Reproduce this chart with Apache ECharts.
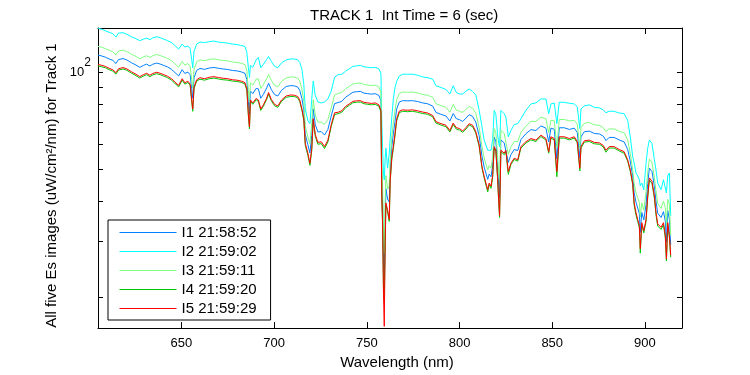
<!DOCTYPE html>
<html><head><meta charset="utf-8">
<script src="https://cdn.jsdelivr.net/npm/echarts@6/dist/echarts.min.js"></script>
<style>html,body{margin:0;padding:0;background:#fff}#c{width:750px;height:375px}</style>
</head><body><div id="c"></div>
<script>
const wavelength = [
605.0,607.0,609.0,611.0,613.0,614.7,616.0,618.5,620.5,623.0,
625.5,627.5,629.5,631.2,633.0,634.5,636.6,638.5,640.5,642.5,
644.7,646.5,648.5,649.5,650.4,651.8,653.5,654.7,655.5,656.1,
656.8,658.2,660.0,662.5,665.0,667.5,670.0,672.5,675.0,677.5,
680.0,682.5,684.3,685.3,686.1,686.7,687.2,688.5,690.3,691.5,
692.8,694.2,696.0,697.0,698.5,700.3,702.0,704.0,706.5,709.0,
711.0,712.7,713.8,715.0,716.0,716.8,718.2,719.3,720.3,721.1,
722.2,723.6,725.4,727.2,729.0,730.8,732.6,734.5,736.5,738.5,
740.5,742.5,744.5,746.5,748.5,750.5,752.5,754.5,756.5,757.6,
758.1,758.5,759.0,759.4,759.9,760.3,761.2,762.1,762.6,763.5,
764.3,765.2,766.1,767.5,769.3,772.0,774.7,777.4,780.1,782.8,
785.5,787.3,790.0,792.7,794.8,796.6,798.2,800.0,801.7,803.5,
805.2,807.1,808.8,810.6,812.1,813.3,815.2,816.0,817.0,817.9,
818.7,819.6,820.5,821.1,821.6,822.3,824.1,825.0,826.3,827.7,
829.5,831.4,833.1,835.8,838.5,841.2,843.9,846.6,848.1,849.3,
851.1,852.5,853.8,856.5,859.2,861.9,863.5,864.9,865.5,867.3,
870.0,872.7,875.4,877.5,879.0,880.7,883.4,886.1,888.8,890.7,
892.1,893.4,894.2,895.2,896.1,897.0,897.5,898.3,899.4,900.6,
901.5,902.4,903.8,905.1,906.0,906.9,908.7,910.0,911.0,911.6,
912.3,913.2,913.9];

// I1 (blue)
const i1 = [
113.3,112.6,111.6,110.2,109.1,106.7,109.7,110.5,109.5,107.3,
105.5,103.8,105.2,106.2,104.8,106.1,107.0,106.3,105.2,104.1,
102.3,100.0,97.6,98.5,102.1,99.4,100.3,98.4,89.1,83.2,
96.3,101.5,103.0,102.3,103.3,103.7,103.1,102.6,102.2,101.5,
101.2,100.4,99.4,95.1,81.2,74.3,87.7,86.0,89.3,89.0,
83.2,85.6,89.6,92.7,88.5,85.4,84.6,88.1,90.5,91.1,
90.9,90.2,88.1,83.0,76.7,64.3,59.7,56.3,63.8,77.1,
69.0,65.4,65.6,64.0,66.6,73.3,80.1,80.7,81.4,83.8,
85.3,86.9,87.2,87.4,86.3,86.0,85.7,86.0,84.9,81.8,
46.9,39.3,25.7,21.4,34.7,43.6,40.5,39.6,50.1,59.1,
64.4,70.5,77.1,81.0,81.8,81.7,81.8,81.3,80.5,80.0,
78.7,75.2,74.2,73.3,70.7,74.6,72.0,71.4,70.5,72.2,
74.0,73.1,70.1,63.6,55.0,50.9,46.6,48.4,47.5,51.6,
63.0,61.3,51.5,44.8,40.9,61.8,60.5,61.0,52.6,55.6,
57.7,57.3,61.9,64.6,66.5,66.1,68.3,67.2,60.9,67.2,
66.7,53.9,67.4,67.4,66.6,67.2,65.2,54.3,63.2,65.5,
65.8,64.7,64.5,63.5,61.5,62.9,62.9,61.8,60.9,57.7,
53.1,47.8,42.4,39.5,38.0,36.5,31.9,36.8,34.9,38.9,
45.2,50.5,49.3,44.3,39.7,36.6,35.5,37.0,34.6,29.8,
37.3,35.0,29.2];

// I2 (cyan)
const i2 = [
137.2,136.3,134.8,133.4,132.0,128.8,132.5,133.0,131.5,129.2,
127.4,125.6,127.0,127.9,126.5,128.1,129.2,128.3,127.0,125.6,
123.9,121.3,118.3,119.2,122.6,120.0,120.8,118.8,109.9,103.5,
116.3,122.6,124.3,123.9,124.7,125.2,124.3,123.9,123.4,122.6,
122.1,121.3,120.4,115.4,103.8,96.5,105.3,103.8,109.5,111.4,
103.5,106.0,109.9,112.2,108.3,104.5,103.5,107.2,109.5,110.2,
110.2,109.5,107.5,102.4,92.1,77.1,70.9,69.4,82.8,94.2,
84.8,81.1,80.5,81.1,82.8,87.6,96.7,98.5,98.8,100.9,
102.7,104.5,104.9,105.3,104.2,103.8,103.5,103.8,102.7,99.5,
69.4,58.2,48.8,46.4,54.2,58.2,50.5,56.2,62.4,72.9,
82.8,89.9,94.0,97.6,98.8,98.8,98.8,98.1,96.9,96.4,
95.4,91.0,89.9,88.6,85.8,91.0,86.8,85.8,85.8,87.6,
88.9,87.3,85.2,76.3,68.0,61.7,57.4,58.2,57.4,62.4,
76.3,74.0,64.7,60.3,58.9,76.3,74.5,72.8,63.2,66.1,
68.9,69.4,71.9,76.3,79.9,80.5,82.8,82.8,74.5,79.9,
80.5,69.4,80.9,80.8,80.3,79.9,78.3,67.0,77.1,78.8,
79.4,78.0,77.7,76.6,75.0,75.9,75.8,74.9,74.5,71.1,
63.2,54.9,52.3,48.8,47.8,46.5,44.5,45.4,43.3,52.3,
58.2,61.7,60.3,53.6,49.8,45.4,43.3,46.5,46.5,42.3,
47.8,48.8,35.9];

// I3 (light green)
const i3 = [
120.6,119.8,118.7,117.3,116.0,113.4,116.6,117.4,116.2,114.0,
112.2,110.4,111.8,112.8,111.4,112.8,113.8,113.0,111.8,110.6,
108.9,106.4,103.9,104.8,108.3,105.6,106.6,104.6,95.4,89.3,
102.4,107.9,109.5,108.9,109.8,110.3,109.5,109.1,108.7,107.9,
107.5,106.8,105.8,101.3,87.9,80.9,93.0,91.4,95.4,95.7,
89.3,91.7,95.7,98.6,94.5,91.2,90.3,93.9,96.2,96.9,
96.8,96.1,94.0,88.9,81.4,68.2,63.1,60.2,69.4,82.3,
73.8,70.2,70.1,69.1,71.5,77.7,85.2,86.1,86.7,89.0,
90.6,92.2,92.6,92.8,91.8,91.4,91.1,91.4,90.3,87.1,
53.3,44.6,31.6,27.5,40.1,47.9,43.5,44.4,53.8,63.3,
69.8,76.3,82.2,86.1,87.0,86.9,87.0,86.4,85.5,85.0,
83.8,80.0,79.0,78.0,75.3,79.6,76.5,75.8,75.2,76.9,
78.5,77.4,74.7,67.4,58.9,54.2,49.9,51.4,50.5,54.8,
67.0,65.2,55.5,49.4,46.0,66.2,64.7,64.6,55.8,58.8,
61.1,61.0,65.1,68.2,70.6,70.5,72.7,71.9,65.0,71.1,
70.9,58.5,71.5,71.5,70.8,71.1,69.2,58.2,67.4,69.6,
70.0,68.8,68.6,67.5,65.6,66.9,66.8,65.7,65.0,61.7,
56.2,49.9,45.4,42.3,40.9,39.5,35.6,39.4,37.4,42.8,
49.1,53.9,52.7,47.1,42.8,39.2,37.9,39.9,38.1,33.4,
40.4,39.0,31.2];

// I4 (green)
const i4 = [
104.9,104.2,103.5,102.1,101.0,98.9,101.7,102.6,101.7,99.6,
97.8,96.1,97.5,98.5,97.1,98.3,99.2,98.5,97.5,96.4,
94.7,92.5,90.3,91.2,94.7,92.1,93.1,91.2,81.6,75.8,
89.2,94.1,95.4,94.7,95.7,96.1,95.5,95.0,94.7,94.1,
93.8,93.1,92.1,88.0,73.4,66.8,81.4,79.7,82.3,81.4,
76.3,78.6,82.6,85.8,81.7,78.8,78.0,81.4,83.8,84.3,
84.2,83.5,81.4,76.3,71.2,59.4,55.4,51.5,57.3,71.2,
63.4,59.9,60.2,58.1,60.9,68.0,74.1,74.5,75.3,77.7,
79.1,80.6,80.9,81.0,80.0,79.7,79.4,79.7,78.6,75.5,
40.3,33.7,20.8,19.6,29.3,38.8,36.9,34.5,45.7,54.0,
58.0,63.7,70.8,75.1,75.8,75.6,75.8,75.3,74.6,74.2,
72.9,69.7,68.7,67.9,65.4,69.0,66.8,66.3,65.2,66.8,
68.7,67.9,64.8,59.0,50.6,47.1,42.6,44.9,43.7,47.5,
58.3,56.8,47.1,39.8,35.5,56.8,55.6,56.8,48.3,51.8,
53.7,53.1,58.3,60.4,61.8,61.1,63.3,61.8,56.2,62.6,
61.8,47.5,62.6,62.6,61.8,62.6,60.5,49.5,58.3,60.8,
61.1,60.1,59.9,58.8,56.6,58.3,58.3,57.1,56.2,53.1,
49.4,44.9,38.8,36.1,34.5,33.0,27.5,33.7,31.8,34.5,
40.8,46.4,45.3,40.8,36.1,33.4,32.6,33.7,30.7,26.0,
33.7,30.7,26.7];

// I5 (red)
const i5 = [
106.0,105.3,104.5,103.1,102.0,99.9,102.7,103.6,102.7,100.6,
98.8,97.1,98.5,99.5,98.1,99.3,100.2,99.5,98.5,97.4,
95.7,93.4,91.2,92.1,95.7,93.0,94.0,92.1,82.8,77.1,
90.1,95.0,96.4,95.7,96.7,97.1,96.5,96.0,95.7,95.0,
94.7,94.0,93.0,88.9,74.5,67.8,82.2,80.5,83.1,82.2,
77.1,79.4,83.4,86.7,82.5,79.6,78.8,82.2,84.6,85.2,
85.0,84.3,82.2,77.1,71.9,60.3,56.2,52.3,58.2,71.9,
64.2,60.7,61.0,58.9,61.7,68.9,75.0,75.3,76.1,78.5,
79.9,81.4,81.7,81.8,80.8,80.5,80.2,80.5,79.4,76.3,
40.9,34.2,20.5,16.3,29.7,39.4,37.5,35.0,46.4,54.9,
58.9,64.7,71.9,75.9,76.6,76.4,76.6,76.1,75.4,74.9,
73.6,70.4,69.4,68.6,66.1,69.7,67.5,67.0,65.9,67.5,
69.4,68.6,65.5,59.6,51.1,47.6,43.3,45.4,44.4,48.2,
58.9,57.4,47.6,40.4,36.0,57.4,56.2,57.4,49.3,52.3,
54.2,53.6,58.9,61.0,62.4,61.7,63.9,62.4,56.8,63.2,
62.4,49.3,63.2,63.2,62.4,63.2,61.1,50.5,58.9,61.4,
61.7,60.7,60.5,59.4,57.4,58.9,58.9,57.7,56.8,53.6,
49.9,45.4,39.4,36.7,35.0,33.5,28.4,34.2,32.3,35.0,
41.4,47.1,46.0,41.4,36.7,33.9,33.1,34.2,31.2,26.4,
34.2,31.2,27.1];

const seriesNames = ['I1 21:58:52','I2 21:59:02','I3 21:59:11','I4 21:59:20','I5 21:59:29'];
const seriesColors = ['#0080FF','#00FFFF','#80FF80','#00C800','#FF0000'];
const xTickValues = [650,700,750,800,850,900];
const yTickValues = [20,30,40,50,60,70,80,90,100];
const yLabelValues = [100];

const allSeries = [i1,i2,i3,i4,i5];
allSeries.forEach((a,k)=>{ if(a.length!==wavelength.length) throw new Error('length mismatch series '+k+': '+a.length+' vs '+wavelength.length); });

const FONT = '"Liberation Sans", Arial, Helvetica, sans-serif';
const black = '#000';
const axisLineStyle = {show:true, lineStyle:{color:black, width:1}};

const chart = echarts.init(document.getElementById('c'), null, {renderer:'canvas'});
chart.setOption({
  animation:false,
  backgroundColor:'#fff',
  title:{
    text:'TRACK 1  Int Time = 6 (sec)', left:305, top:3,
    textStyle:{fontFamily:FONT, fontSize:15, fontWeight:'normal', color:black}
  },
  grid:{left:98, right:68, top:28, bottom:43},
  xAxis:[
    {type:'value', min:605, max:920, position:'bottom',
     name:'Wavelength (nm)', nameLocation:'middle', nameGap:16,
     nameTextStyle:{fontFamily:FONT, fontSize:15, color:black, padding:[0,0,0,14]},
     axisLine:axisLineStyle,
     axisTick:{show:true, inside:true, length:6, customValues:xTickValues, lineStyle:{color:black}},
     axisLabel:{show:true, customValues:xTickValues, fontFamily:FONT, fontSize:13, color:black, margin:9},
     splitLine:{show:false}},
    {type:'value', min:605, max:920, position:'top',
     axisLine:axisLineStyle,
     axisTick:{show:true, inside:true, length:6, customValues:xTickValues, lineStyle:{color:black}},
     axisLabel:{show:false},
     splitLine:{show:false}}
  ],
  yAxis:[
    {type:'log', logBase:10, min:16.1, max:137.5, position:'left',
     name:'All five Es images (uW/cm\u00B2/nm) for Track 1', nameLocation:'middle', nameGap:31, nameRotate:90,
     nameTextStyle:{fontFamily:FONT, fontSize:15, color:black, padding:[0,15,0,0]},
     axisLine:axisLineStyle,
     axisTick:{show:true, inside:true, length:5, customValues:yTickValues, lineStyle:{color:black}},
     axisLabel:{show:true, customValues:yLabelValues, margin:7,
       formatter:function(){ return '{b|10}{s|2}'; },
       rich:{b:{fontFamily:FONT, fontSize:13, color:black},
             s:{fontFamily:FONT, fontSize:12, color:black, padding:[0,0,19,0]}}},
     splitLine:{show:false}, minorSplitLine:{show:false}},
    {type:'log', logBase:10, min:16.1, max:137.5, position:'right',
     axisLine:axisLineStyle,
     axisTick:{show:true, inside:true, length:5, customValues:yTickValues, lineStyle:{color:black}},
     axisLabel:{show:false},
     splitLine:{show:false}}
  ],
  legend:{
    orient:'vertical', left:108, top:220, padding:[3,14,2,11],
    itemGap:0, itemWidth:57, itemHeight:13, selectedMode:false,
    itemStyle:{color:'rgba(0,0,0,0)', borderColor:'rgba(0,0,0,0)', borderWidth:0},
    lineStyle:{width:1},
    borderColor:black, borderWidth:1, borderRadius:0, backgroundColor:'#fff',
    textStyle:{fontFamily:FONT, fontSize:15, color:black, lineHeight:19},
    data:seriesNames
  },
  series: allSeries.map((arr,k)=>({
    name:seriesNames[k], type:'line', xAxisIndex:0, yAxisIndex:0,
    data: wavelength.map((w,i)=>[w, arr[i]]),
    symbol:'none', showSymbol:false, silent:true, z:2+k,
    lineStyle:{width:1, color:seriesColors[k]},
    itemStyle:{color:seriesColors[k]}
  }))
});
</script>
</body></html>
